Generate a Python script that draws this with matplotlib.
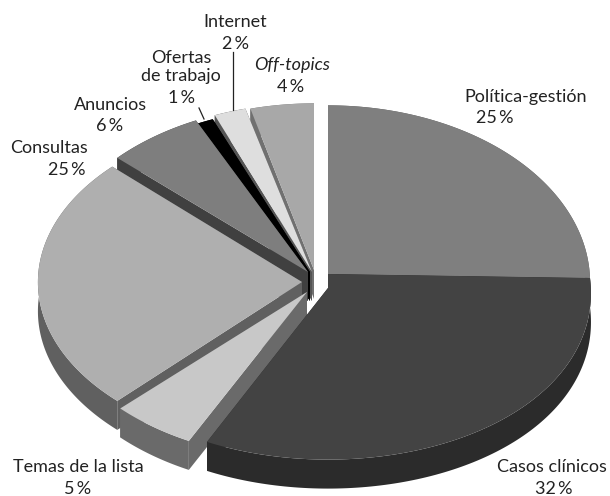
import numpy as np
import matplotlib
matplotlib.use("Agg")
from matplotlib import pyplot as plt
from matplotlib.patches import Polygon

# Data
categories = ["Política-gestión", "Casos clínicos", "Temas de la lista", "Consultas",
              "Anuncios", "Ofertas\nde trabajo", "Internet", "Off-topics"]
values = [25, 32, 5, 25, 6, 1, 2, 4]

# Slice styling, same order as categories
top_colors = ["#7f7f7f", "#434343", "#c8c8c8", "#afafaf", "#7e7e7e", "#000000", "#dedede", "#a8a8a8"]
side_colors = ["#5a5a5a", "#2b2b2b", "#6a6a6a", "#606060", "#404040", "#000000", "#555555", "#707070"]
arc_centers = [(328, 278), (328, 278), (303, 277), (300, 278), (305, 277), (307, 280), (309, 276), (314, 276)]
height_scale = [1, 1, 1, 0.935, 1, 1, 1, 1]
width_persp = [0.0253, 0.086, 0.0253, 0.0253, 0.0253, 0.0253, 0.0253, 0.0253]
hubs = [[(328, 274)], [(328, 288), (328, 274)], [(307, 292)], [(302, 282)],
        [(308, 272)], [(310, 272)], [(312, 272)], [(314, 270)]]
draw_order = [0, 7, 6, 5, 4, 3, 2, 1]

# Pie shape in pixels
rx, ry = 262, 177
persp = 0.0253
depth = 29

# Label text anchors: (x of name, y of name, x of percent, y of percent)
label_pos = [(526, 97, 495, 118), (552, 467, 554, 489), (78, 467, 78, 489), (49, 148, 67, 170),
             (110, 105, 110, 126), (181, 67, 181, 98), (235, 22, 235, 44), (292, 65, 291, 87)]


def arc_points(t0, t1, center, scale, kx):
    t = np.radians(np.linspace(t0, t1, 120))
    x = center[0] + rx * np.cos(t) / (1 + kx * np.sin(t))
    y = center[1] - ry * scale * np.sin(t) / (1 + persp * np.sin(t))
    return np.column_stack([x, y])


fig = plt.figure(figsize=(6.1, 4.96), dpi=100)
ax = fig.add_axes([0, 0, 1, 1])
ax.set_xlim(0, 610)
ax.set_ylim(496, 0)
ax.axis("off")

# Angles run clockwise from 12 o'clock
ends = 90 - np.cumsum(values) * 3.6
starts = np.concatenate([[90], ends[:-1]])

for i in draw_order:
    arc = arc_points(starts[i], ends[i], arc_centers[i], height_scale[i], width_persp[i])
    hub = np.array(hubs[i], dtype=float)
    outline = np.vstack([arc, hub])
    drop = np.array([0, depth])

    # outer wall as one band, then the cut faces
    band = np.vstack([arc, arc[::-1] + drop])
    ax.add_patch(Polygon(band, closed=True, fc=side_colors[i], ec="none"))
    cut = np.vstack([arc[-1:], hub, arc[:1]])
    for a, b in zip(cut[:-1], cut[1:]):
        ax.add_patch(Polygon([a, b, b + drop, a + drop], closed=True, fc=side_colors[i], ec="none"))

    ax.add_patch(Polygon(outline, closed=True, fc=top_colors[i], ec="none"))

# Leader lines
ax.plot([233, 233], [52, 110], color="#222222", lw=0.9)
ax.plot([199, 204], [108, 119], color="#222222", lw=0.9)

# Labels
plt.rcParams["font.family"] = ["Lato", "DejaVu Sans"]
for i, name in enumerate(categories):
    nx, ny, px, py = label_pos[i]
    style = "italic" if name == "Off-topics" else "normal"
    ax.text(nx, ny, name, ha="center", va="center", fontsize=13, color="#222222",
            style=style, linespacing=1.1)
    ax.text(px, py, f"{values[i]}\u2009%", ha="center", va="center", fontsize=13, color="#222222")

fig.savefig("out.png", dpi=100)
